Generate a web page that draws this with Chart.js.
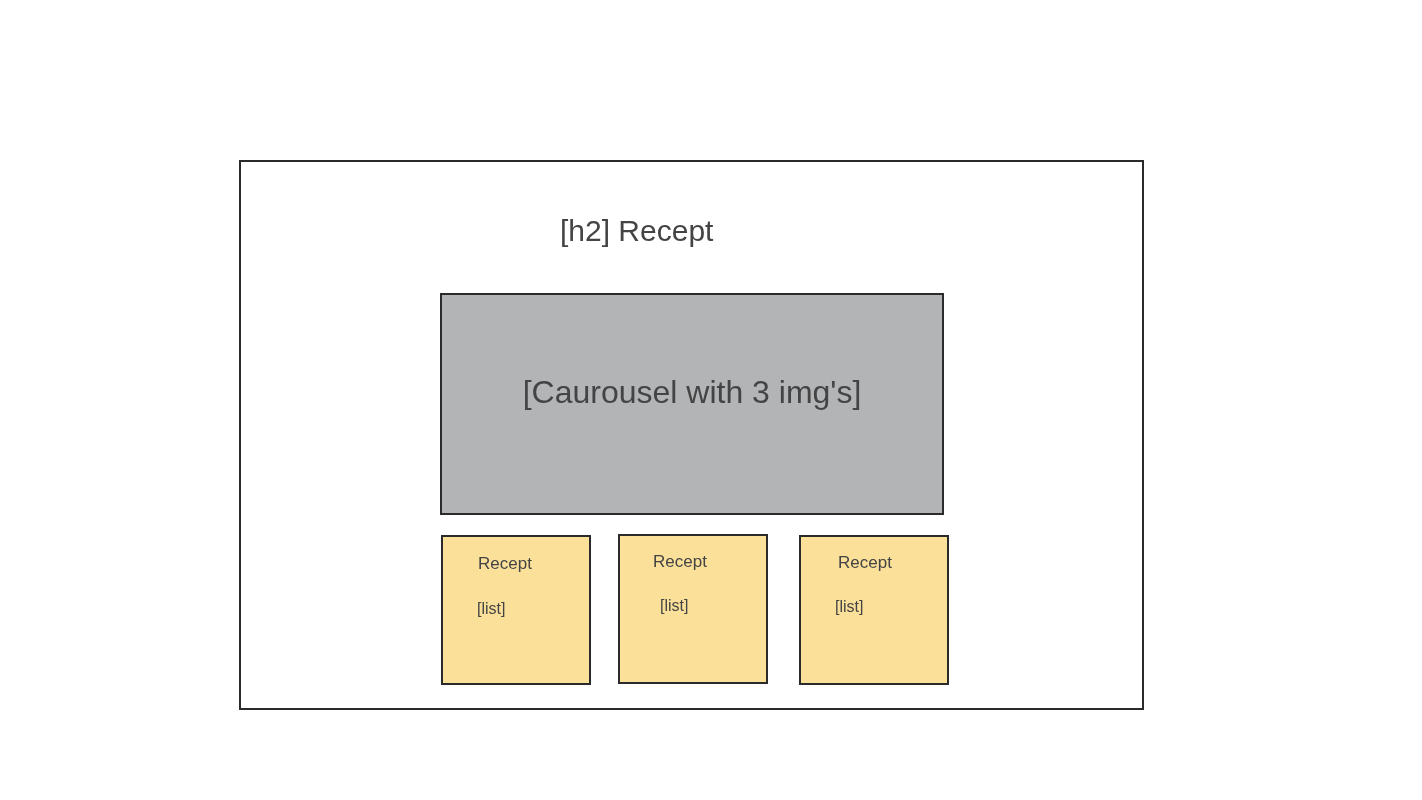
<!DOCTYPE html>
<html><head><meta charset="utf-8">
<script src="https://cdn.jsdelivr.net/npm/chart.js@4"></script>
<style>html,body{margin:0;padding:0;background:#fff;}canvas{display:block;}</style>
</head><body>
<canvas id="c" width="1422" height="800"></canvas>
<script>
// Wireframe boxes: [x1, y1, x2, y2] in picture units
const boxNames = ["page", "carousel", "card1", "card2", "card3"];
const boxCoords = [[240,161,1143,709],[441,294,943,514],[442,536,590,684],[619,535,767,683],[800,536,948,684]];
const boxFills = ["#ffffff", "#b3b4b6", "#fbe09a", "#fbe09a", "#fbe09a"];
// Labels: text, x, y, size, align
const labelTexts = ["[h2] Recept", "[Caurousel with 3 img's]", "Recept", "[list]", "Recept", "[list]", "Recept", "[list]"];
const labelX = [560, 692, 478, 477, 653, 660, 838, 835];
const labelY = [233, 394, 564, 610, 562, 607, 563, 608];
const labelSize = [30, 32, 17, 16, 17, 16, 17, 16];
const labelAlign = ["left", "center", "left", "left", "left", "left", "left", "left"];

const wire = {
  id: 'wire',
  afterDatasetsDraw(chart) {
    const {ctx, scales: {x, y}} = chart;
    ctx.save();
    boxCoords.forEach((b, i) => {
      const x1 = x.getPixelForValue(b[0]), y1 = y.getPixelForValue(b[1]);
      const x2 = x.getPixelForValue(b[2]), y2 = y.getPixelForValue(b[3]);
      ctx.fillStyle = boxFills[i];
      ctx.fillRect(x1, y1, x2 - x1, y2 - y1);
      ctx.strokeStyle = '#2b2b2b';
      ctx.lineWidth = 2;
      ctx.strokeRect(x1, y1, x2 - x1, y2 - y1);
    });
    ctx.fillStyle = '#444444';
    ctx.textBaseline = 'middle';
    labelTexts.forEach((t, i) => {
      ctx.font = labelSize[i] + 'px "Liberation Sans", Arial, sans-serif';
      ctx.textAlign = labelAlign[i];
      ctx.fillText(t, x.getPixelForValue(labelX[i]), y.getPixelForValue(labelY[i]));
    });
    ctx.restore();
  }
};

new Chart(document.getElementById('c'), {
  type: 'scatter',
  data: { datasets: [{ data: labelX.map((v, i) => ({x: v, y: labelY[i]})), pointRadius: 0 }] },
  options: {
    responsive: false, animation: false,
    layout: { padding: 0 },
    plugins: { legend: { display: false }, tooltip: { enabled: false } },
    scales: {
      x: { type: 'linear', min: 0, max: 1422, display: false },
      y: { type: 'linear', min: 0, max: 800, reverse: true, display: false }
    }
  },
  plugins: [wire]
});
</script>
</body></html>
